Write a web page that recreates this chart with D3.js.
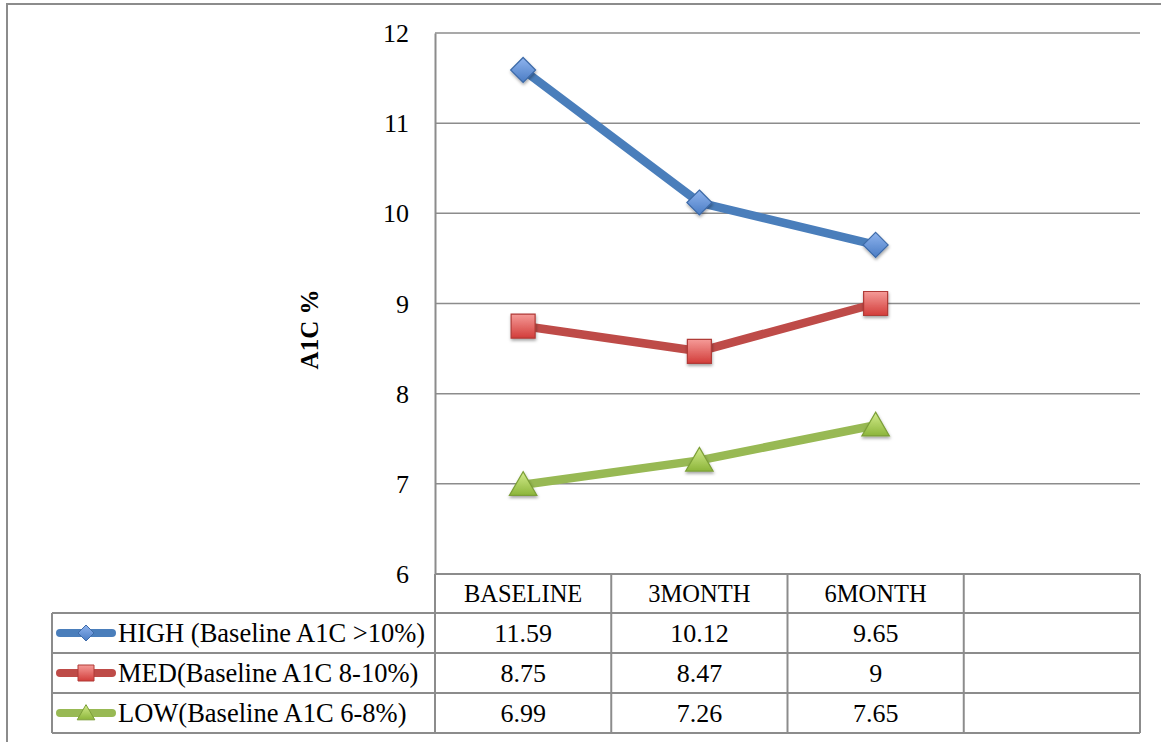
<!DOCTYPE html>
<html>
<head>
<meta charset="utf-8">
<script src="https://cdn.jsdelivr.net/npm/d3@7/dist/d3.min.js"></script>
<style>
  html, body { margin: 0; padding: 0; background: #fff; }
  svg { display: block; }
  text { font-family: "Liberation Serif", "Times New Roman", serif; fill: #000; }
</style>
</head>
<body>
<svg id="chart" width="1161" height="742"></svg>
<script>
// A1C by baseline group over time
const categories = ["BASELINE", "3MONTH", "6MONTH", ""];
const seriesNames = ["HIGH (Baseline A1C >10%)", "MED(Baseline A1C 8-10%)", "LOW(Baseline A1C 6-8%)"];
const highValues = [11.59, 10.12, 9.65];
const medValues = [8.75, 8.47, 9];
const lowValues = [6.99, 7.26, 7.65];
const yTicks = [6, 7, 8, 9, 10, 11, 12];
const yTitle = "A1C %";

const series = [
  { name: seriesNames[0], values: highValues, marker: "diamond", line: "#4a7ebb", light: "#8fb4ee", dark: "#4a7cc4", edge: "#3d6aa8" },
  { name: seriesNames[1], values: medValues, marker: "square", line: "#be4b48", light: "#f59b98", dark: "#d23d3a", edge: "#b03a37" },
  { name: seriesNames[2], values: lowValues, marker: "triangle", line: "#98b954", light: "#d3ec8c", dark: "#8cb53a", edge: "#7c9f38" }
];

const svg = d3.select("#chart");
const plot = { left: 435, right: 1140, top: 33, bottom: 574 };
const rowH = 40, headerH = 39, legendLeft = 52;

const x = d3.scaleBand().domain(categories).range([plot.left, plot.right]);
const y = d3.scaleLinear().domain([6, 12]).range([plot.bottom, plot.top]);

const defs = svg.append("defs");
series.forEach((s, i) => {
  const g = defs.append("linearGradient").attr("id", "grad" + i).attr("x1", 0).attr("y1", 0).attr("x2", 0).attr("y2", 1);
  g.append("stop").attr("offset", "0%").attr("stop-color", s.light);
  g.append("stop").attr("offset", "100%").attr("stop-color", s.dark);
});
const shadow = defs.append("filter").attr("id", "shadow").attr("x", "-50%").attr("y", "-50%").attr("width", "200%").attr("height", "200%");
shadow.append("feDropShadow").attr("dx", 0.5).attr("dy", 2).attr("stdDeviation", 1.6).attr("flood-color", "#000").attr("flood-opacity", 0.35);

const grey = "#8c8c8c";

// outer chart frame
svg.append("rect").attr("x", 7).attr("y", 4).attr("width", 1170).attr("height", 760)
  .attr("fill", "none").attr("stroke", grey).attr("stroke-width", 2);

// horizontal gridlines
svg.append("g").selectAll("line").data(yTicks).join("line")
  .attr("x1", plot.left).attr("x2", plot.right)
  .attr("y1", d => y(d)).attr("y2", d => y(d))
  .attr("stroke", grey).attr("stroke-width", 1.5);

// value axis
const yAxis = svg.append("g").attr("transform", `translate(${plot.left},0)`)
  .call(d3.axisLeft(y).tickValues(yTicks).tickSize(0).tickPadding(26).tickFormat(d3.format("d")));
yAxis.select(".domain").attr("stroke", grey).attr("stroke-width", 2);
yAxis.selectAll("text").style("font-family", "'Liberation Serif', serif").style("font-size", "26px").attr("fill", "#000").attr("dy", "0.33em");

svg.append("text")
  .attr("transform", `translate(318,${(plot.top + plot.bottom) / 2 + 26}) rotate(-90)`)
  .attr("text-anchor", "middle")
  .style("font-size", "25px").style("font-weight", "bold")
  .text(yTitle);

// data table grid
const tableTop = plot.bottom;
const rowsTop = tableTop + headerH;
const tableBottom = rowsTop + rowH * series.length;
const tbl = svg.append("g").attr("stroke", grey).attr("stroke-width", 2).attr("fill", "none");
tbl.append("line").attr("x1", plot.left).attr("x2", plot.right).attr("y1", tableTop).attr("y2", tableTop);
d3.range(series.length + 1).forEach(i => {
  tbl.append("line").attr("x1", legendLeft).attr("x2", plot.right)
    .attr("y1", rowsTop + i * rowH).attr("y2", rowsTop + i * rowH);
});
tbl.append("line").attr("x1", legendLeft).attr("x2", legendLeft).attr("y1", rowsTop).attr("y2", tableBottom);
categories.forEach(c => {
  tbl.append("line").attr("x1", x(c)).attr("x2", x(c)).attr("y1", tableTop).attr("y2", tableBottom);
});
tbl.append("line").attr("x1", plot.right).attr("x2", plot.right).attr("y1", tableTop).attr("y2", tableBottom);

// header labels
svg.append("g").selectAll("text").data(categories).join("text")
  .attr("x", d => x(d) + x.bandwidth() / 2)
  .attr("y", tableTop + headerH / 2)
  .attr("dy", "0.35em").attr("text-anchor", "middle")
  .style("font-size", "24.5px")
  .text(d => d);

// marker shapes
function markerPath(type, r) {
  if (type === "diamond") return `M0,${-r}L${r},0L0,${r}L${-r},0Z`;
  if (type === "square") return `M${-r},${-r}H${r}V${r}H${-r}Z`;
  const h = r * 1.9;
  return `M0,${-h * 0.55}L${r * 1.1},${h * 0.45}L${-r * 1.1},${h * 0.45}Z`;
}
const markerR = { diamond: 12.5, square: 12, triangle: 12.5 };

// series lines and markers
const line = d3.line().x((d, i) => x(categories[i]) + x.bandwidth() / 2).y(d => y(d));
series.forEach((s, si) => {
  const g = svg.append("g");
  g.append("path").attr("d", line(s.values)).attr("fill", "none")
    .attr("stroke", s.line).attr("stroke-width", 8.5).attr("stroke-linejoin", "round").attr("stroke-linecap", "round");
  g.selectAll("path.mk").data(s.values).join("path").attr("class", "mk")
    .attr("transform", (d, i) => `translate(${x(categories[i]) + x.bandwidth() / 2},${y(d)})`)
    .attr("d", markerPath(s.marker, markerR[s.marker]))
    .attr("fill", `url(#grad${si})`).attr("stroke", s.edge).attr("stroke-width", 1.2)
    .attr("filter", "url(#shadow)");

  // table row: legend key, name and values
  const rowY = rowsTop + si * rowH + rowH / 2;
  svg.append("line").attr("x1", 60).attr("x2", 112).attr("y1", rowY).attr("y2", rowY)
    .attr("stroke", s.line).attr("stroke-width", 8).attr("stroke-linecap", "round");
  svg.append("path").attr("transform", `translate(86,${rowY})`)
    .attr("d", markerPath(s.marker, 8))
    .attr("fill", `url(#grad${si})`).attr("stroke", s.edge).attr("stroke-width", 1);
  svg.append("text").attr("x", 118).attr("y", rowY).attr("dy", "0.35em")
    .style("font-size", "26.5px").text(s.name);
  svg.append("g").selectAll("text").data(s.values).join("text")
    .attr("x", (d, i) => x(categories[i]) + x.bandwidth() / 2)
    .attr("y", rowY).attr("dy", "0.35em").attr("text-anchor", "middle")
    .style("font-size", "26px")
    .text(d => String(d));
});
</script>
</body>
</html>
